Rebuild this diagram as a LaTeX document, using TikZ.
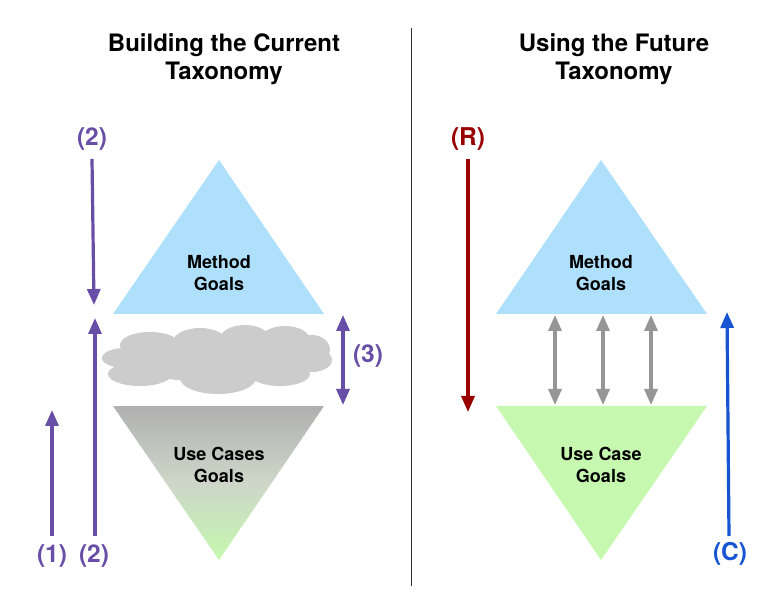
\documentclass[tikz,border=0pt]{standalone}
\usepackage{fontspec}
\setmainfont{TeX Gyre Heros}
\usetikzlibrary{arrows.meta}
\definecolor{purp}{RGB}{104,78,166}
\definecolor{skyb}{RGB}{174,224,252}
\definecolor{lgreen}{RGB}{198,248,176}
\definecolor{tgray}{RGB}{176,176,176}
\definecolor{mgray}{RGB}{205,214,200}
\definecolor{cgray}{RGB}{204,204,204}
\definecolor{agray}{RGB}{150,150,150}
\definecolor{dred}{RGB}{153,0,0}
\definecolor{cblue}{RGB}{22,84,210}
\begin{document}
\begin{tikzpicture}[x=1pt,y=-1pt,
  title/.style={font=\fontsize{24}{28}\selectfont\bfseries,align=center},
  tri/.style={font=\fontsize{18}{21.5}\selectfont\bfseries,align=center},
  lab/.style={font=\fontsize{24.5}{28}\selectfont\bfseries},
  parr/.style={draw=purp,line width=3.2pt,-{Triangle[length=16pt,width=13pt]}},
  darr/.style={draw=purp,line width=3.2pt,{Triangle[length=16pt,width=13pt]}-{Triangle[length=16pt,width=13pt]}},
  garr/.style={draw=agray,line width=3.2pt,{Triangle[length=16pt,width=13pt]}-{Triangle[length=16pt,width=13pt]}},
  rarr/.style={draw=dred,line width=3.2pt,-{Triangle[length=16pt,width=13pt]}},
  barr/.style={draw=cblue,line width=3.2pt,-{Triangle[length=16pt,width=13pt]}}]
\useasboundingbox (0,0) rectangle (780,609);
% divider
\coordinate (d1) at (411,28);
\coordinate (d2) at (411,586);
\draw[line width=1pt,black!80] (d1) -- (d2);
% titles
\node[title] (t1) at (224,59) {Building the Current\\Taxonomy};
\node[title] (t2) at (614,59) {Using the Future\\Taxonomy};
% left method triangle
\fill[skyb] (219,160) -- (324,314) -- (113,314) -- cycle;
\node[tri] (lm) at (219,273) {Method\\Goals};
% left use case triangle with manual gradient
\begin{scope}
\clip (113,406) -- (324,406) -- (219,560) -- cycle;
\foreach \i in {0,...,29}{
  \pgfmathsetmacro\p{\i*100/29}
  \pgfmathsetmacro\ya{406+\i*77/30}
  \fill[mgray!\p!tgray] (110,\ya) rectangle (330,\ya+3);
}
\foreach \i in {0,...,29}{
  \pgfmathsetmacro\p{\i*100/29}
  \pgfmathsetmacro\ya{483+\i*77/30}
  \fill[lgreen!\p!mgray] (110,\ya) rectangle (330,\ya+3);
}
\end{scope}
\node[tri] (lu) at (219,465) {Use Cases\\Goals};
% cloud
\begin{scope}[cgray]
\fill (217,360) ellipse [x radius=95, y radius=22];
\fill (150,345) ellipse [x radius=30, y radius=13];
\fill (200,342) ellipse [x radius=27, y radius=14];
\fill (245,339) ellipse [x radius=25, y radius=14];
\fill (285,340) ellipse [x radius=25, y radius=14];
\fill (312,350) ellipse [x radius=18, y radius=15];
\fill (125,358) ellipse [x radius=23, y radius=10];
\fill (312,360) ellipse [x radius=20, y radius=12];
\fill (140,374) ellipse [x radius=32, y radius=12];
\fill (218,378) ellipse [x radius=38, y radius=16];
\fill (280,374) ellipse [x radius=30, y radius=12];
\end{scope}
% left labels and arrows
\node[lab,text=purp] (l2t) at (92,139) {(2)};
\node[lab,text=purp] (l1) at (52,556) {(1)};
\node[lab,text=purp] (l2b) at (94,556) {(2)};
\node[lab,text=purp] (l3) at (368,356) {(3)};
\coordinate (a2s) at (92,159);
\coordinate (a2e) at (94,305);
\coordinate (b2s) at (95,536);
\coordinate (b2e) at (95,318);
\coordinate (a1s) at (52,536);
\coordinate (a1e) at (52,410);
\coordinate (a3s) at (343,315);
\coordinate (a3e) at (343,405);
\draw[parr] (a2s) -- (a2e);
\draw[parr] (b2s) -- (b2e);
\draw[parr] (a1s) -- (a1e);
\draw[darr] (a3s) -- (a3e);
% right method triangle
\fill[skyb] (601,160) -- (707,314) -- (496,314) -- cycle;
\node[tri] (rm) at (601,273) {Method\\Goals};
% right use case triangle
\fill[lgreen] (496,406) -- (707,406) -- (601,560) -- cycle;
\node[tri] (ru) at (601,465) {Use Case\\Goals};
% gray arrows
\foreach \x/\n in {555/g1,603/g2,651/g3}{
  \coordinate (\n s) at (\x,315);
  \coordinate (\n e) at (\x,405);
  \draw[garr] (\n s) -- (\n e);
}
% R and C
\node[lab,text=dred] (lr) at (468,139) {(R)};
\node[lab,text=cblue] (lc) at (730,554) {(C)};
\coordinate (rs) at (468,159);
\coordinate (re) at (468,412);
\coordinate (cs) at (729,536);
\coordinate (ce) at (727,312);
\draw[rarr] (rs) -- (re);
\draw[barr] (cs) -- (ce);
\end{tikzpicture}
\end{document}
